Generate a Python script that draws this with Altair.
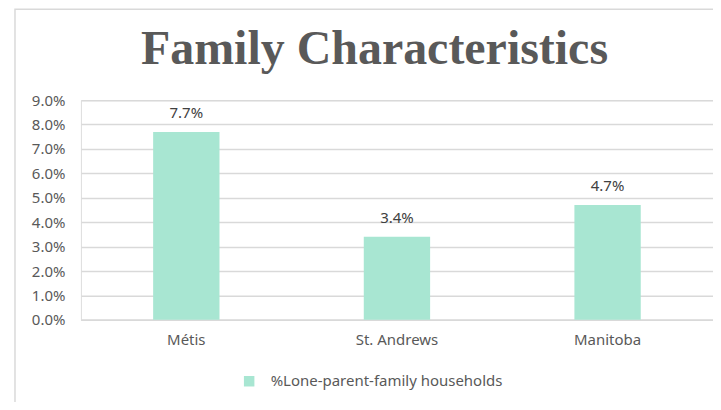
import altair as alt
import pandas as pd

categories = ["Métis", "St. Andrews", "Manitoba"]
values = [0.077, 0.034, 0.047]
series_name = "%Lone-parent-family households"
y_ticks = [0.0, 0.01, 0.02, 0.03, 0.04, 0.05, 0.06, 0.07, 0.08, 0.09]
title_text = "Family Characteristics"

df = pd.DataFrame({"cat": categories, "val": values, "series": [series_name] * len(categories)})

FONT = "Noto Sans"
GREY = "#595959"
FS = 15

x_axis = alt.Axis(labelAngle=0, labelColor=GREY, labelFont=FONT, labelFontSize=FS,
                  labelPadding=13, ticks=False, domainColor="#d9d9d9", domainWidth=1.5)
y_axis = alt.Axis(values=y_ticks, format=".1%", labelColor=GREY, labelFont=FONT,
                  labelFontSize=FS, labelPadding=16, ticks=False, domain=False,
                  labelOverlap=False, gridColor="#d9d9d9", gridWidth=1.5)
x_scale = alt.Scale(paddingInner=0.685, paddingOuter=0.343)
y_scale = alt.Scale(domain=[0, 0.09], nice=False)

base = alt.Chart(df)

bars = base.mark_bar(color="#a8e6d2").encode(
    x=alt.X("cat:N", sort=categories, title=None, scale=x_scale, axis=x_axis),
    y=alt.Y("val:Q", title=None, scale=y_scale, axis=y_axis),
    color=alt.Color("series:N", scale=alt.Scale(range=["#a8e6d2"]), title=None,
                    legend=alt.Legend(orient="none", legendX=161, legendY=274, direction="horizontal",
                                      symbolType="square", symbolSize=110, symbolStrokeWidth=0,
                                      labelFont=FONT, labelFontSize=FS, labelColor=GREY,
                                      labelOffset=14, labelLimit=0)),
)

labels = base.mark_text(dy=-19, font=FONT, fontSize=FS, color="#404040").encode(
    x=alt.X("cat:N", sort=categories, title=None, scale=x_scale, axis=x_axis),
    y=alt.Y("val:Q", title=None, scale=y_scale, axis=y_axis),
    text=alt.Text("val:Q", format=".1%"),
)

single = alt.Data(values=[{"t": title_text}])

border = alt.Chart(single).mark_rect(
    fill=None, stroke="#d9d9d9", strokeWidth=1.5
).encode(
    x=alt.value(-66), x2=alt.value(680), y=alt.value(-91), y2=alt.value(340)
)

title = alt.Chart(single).mark_text(
    font="Liberation Serif", fontSize=48, fontWeight="bold", color=GREY,
    align="center", baseline="alphabetic"
).encode(
    x=alt.value(294), y=alt.value(-36), text="t:N"
)

chart = alt.layer(border, title, bars, labels).properties(
    width=633, height=220,
    padding={"left": 73, "top": 92, "right": 0, "bottom": 82},
    autosize=alt.AutoSizeParams(type="none"),
).configure_view(strokeWidth=0, stroke="transparent").configure(background="white")

chart.save("out.html", embed_options={"renderer": "svg", "actions": False})
